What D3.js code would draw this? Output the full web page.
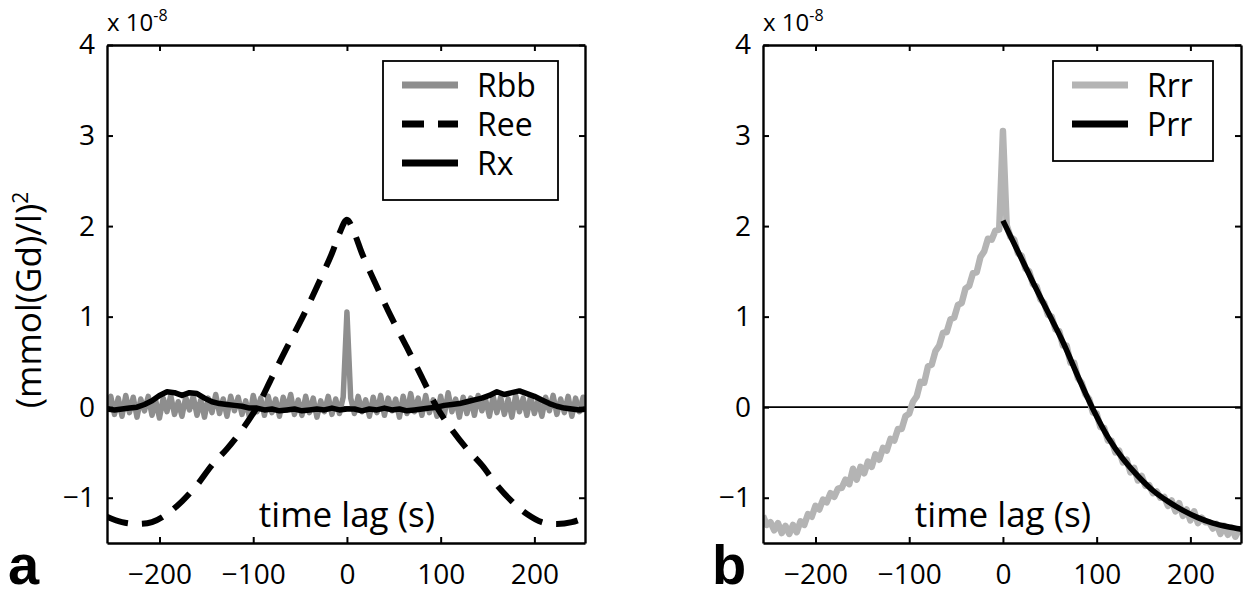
<!DOCTYPE html>
<html>
<head>
<meta charset="utf-8">
<script src="https://cdnjs.cloudflare.com/ajax/libs/d3/7.8.5/d3.min.js"></script>
<style>
  body { margin: 0; background: #fff; }
  svg text { font-family: "Open Sans", sans-serif; fill: #000; }
</style>
</head>
<body>
<div id="chart"></div>
<script>
var svgWidth = 1244;
var svgHeight = 597;

// ---- data (values in units of 1e-8 (mmol(Gd)/l)^2) ----
var xTicks = [-200, -100, 0, 100, 200];
var yTicks = [-1, 0, 1, 2, 3, 4];

// fine lag grid, 4 s spacing (Rbb, Rrr)
var lagFine = d3.range(-256, 257, 4);
// 8 s spacing (Rx)
var lagRx = d3.range(-256, 257, 8);

var rbb = [
  0.02, 0.12, -0.08, 0.10, -0.10, 0.13, -0.06, 0.11, -0.11, 0.09, -0.04, 0.12, -0.09, 0.07, -0.12, 0.10,
  -0.05, 0.13, -0.08, 0.06, -0.10, 0.11, -0.03, 0.12, -0.09, 0.08, -0.11, 0.10, -0.06, 0.14, -0.07, 0.09,
  -0.10, 0.12, -0.04, 0.11, -0.08, 0.07, -0.11, 0.13, -0.05, 0.10, -0.09, 0.12, -0.06, 0.09, -0.10, 0.11,
  -0.03, 0.14, -0.08, 0.08, -0.09, 0.12, -0.06, 0.10, -0.11, 0.07, -0.05, 0.12, -0.08, 0.09, -0.07, 0.11,
  1.05,
  0.10, -0.07, 0.12, -0.05, 0.08, -0.10, 0.11, -0.06, 0.13, -0.09, 0.10, -0.04, 0.09, -0.11, 0.12, -0.07,
  0.15, -0.05, 0.10, -0.09, 0.13, -0.06, 0.08, -0.10, 0.12, -0.08, 0.16, -0.05, 0.09, -0.11, 0.11, -0.07,
  0.10, -0.09, 0.13, -0.04, 0.08, -0.10, 0.12, -0.06, 0.11, -0.08, 0.09, -0.11, 0.13, -0.05, 0.10, -0.09,
  0.12, -0.07, 0.08, -0.10, 0.11, -0.04, 0.13, -0.08, 0.09, -0.06, 0.12, -0.10, 0.10, -0.05, 0.11, 0.01
];

var rx = [
  -0.02, -0.03, -0.02, -0.01, 0.00, 0.03, 0.07, 0.13, 0.17, 0.16, 0.13, 0.16, 0.15, 0.10, 0.06, 0.04,
  0.03, 0.02, 0.01, -0.01, -0.01, -0.03, -0.02, -0.04, -0.03, -0.02, -0.04, -0.03, -0.02, -0.03, -0.01, -0.03,
  -0.02,
  -0.02, -0.04, -0.02, -0.03, -0.01, -0.03, -0.02, -0.04, -0.03, -0.02, -0.01, 0.00, 0.02, 0.03, 0.04, 0.06,
  0.08, 0.10, 0.13, 0.17, 0.14, 0.16, 0.18, 0.15, 0.12, 0.08, 0.04, 0.01, -0.01, -0.02, -0.03, -0.02
];

var lagRee = [-256, -240, -224, -208, -192, -176, -160, -144, -128, -112, -96, -80, -64, -48, -32, -16, -8,
  0, 8, 16, 32, 48, 64, 80, 96, 112, 128, 144, 160, 176, 192, 208, 224, 240, 256];
var ree = [-1.21, -1.27, -1.29, -1.27, -1.18, -1.04, -0.86, -0.64, -0.46, -0.25, 0.00, 0.33, 0.66, 0.98, 1.33, 1.70, 1.92,
  2.07, 1.92, 1.70, 1.33, 0.98, 0.66, 0.33, 0.00, -0.25, -0.46, -0.64, -0.86, -1.04, -1.18, -1.27, -1.29, -1.27, -1.21];

var rrr = [
  -1.20, -1.30, -1.27, -1.36, -1.28, -1.39, -1.31, -1.40, -1.30, -1.38, -1.26, -1.30, -1.18, -1.21, -1.09, -1.13,
  -1.02, -1.05, -0.95, -0.99, -0.90, -0.89, -0.80, -0.85, -0.68, -0.80, -0.66, -0.73, -0.60, -0.66, -0.52, -0.58,
  -0.45, -0.48, -0.35, -0.37, -0.24, -0.24, -0.10, -0.07, 0.06, 0.12, 0.28, 0.27, 0.45, 0.47, 0.62, 0.68,
  0.82, 0.83, 0.97, 0.99, 1.13, 1.15, 1.31, 1.34, 1.48, 1.49, 1.66, 1.72, 1.86, 1.85, 1.95, 1.96,
  3.05,
  2.01, 1.88, 1.85, 1.70, 1.67, 1.53, 1.50, 1.36, 1.33, 1.19, 1.15, 1.02, 1.00, 0.86, 0.84, 0.68,
  0.68, 0.49, 0.49, 0.32, 0.27, 0.14, 0.09, -0.06, -0.07, -0.22, -0.23, -0.37, -0.37, -0.50, -0.48, -0.61,
  -0.58, -0.72, -0.67, -0.81, -0.76, -0.87, -0.86, -0.95, -0.93, -1.00, -0.99, -1.09, -1.03, -1.15, -1.06, -1.20,
  -1.13, -1.25, -1.15, -1.28, -1.22, -1.27, -1.27, -1.34, -1.29, -1.40, -1.31, -1.41, -1.33, -1.43, -1.35, -1.38
];

var lagPrr = [0, 16, 32, 48, 64, 80, 96, 112, 128, 144, 160, 176, 192, 208, 224, 240, 256];
var prr = [2.06, 1.72, 1.38, 1.05, 0.72, 0.34, -0.02, -0.33, -0.57, -0.76, -0.92, -1.04, -1.14, -1.22, -1.28, -1.32, -1.35];

// ---- layout ----
var yTop = 45, yBottom = 543;

var svg = d3.select("#chart")
  .append("svg")
  .attr("width", svgWidth)
  .attr("height", svgHeight);

var y = d3.scaleLinear().domain([-1.5, 4]).range([yBottom, yTop]);
var xA = d3.scaleLinear().domain([-256, 254]).range([107, 585]);
var xB = d3.scaleLinear().domain([-256, 254]).range([763, 1241]);

var fmt = d => (d < 0 ? "\u2212" + Math.abs(d) : "" + d);

function zip(xs, ys) {
  return xs.map((t, i) => [t, ys[i]]);
}

// draws MATLAB style box axes, returns clipped group for data
function drawFrame(x, id) {
  var x0 = x.range()[0], x1 = x.range()[1];
  var g = svg.append("g");

  g.append("clipPath").attr("id", id)
    .append("rect")
    .attr("x", x0).attr("y", yTop)
    .attr("width", x1 - x0).attr("height", yBottom - yTop);

  var data = g.append("g").attr("clip-path", `url(#${id})`);

  // zero line
  data.append("line")
    .attr("x1", x0).attr("x2", x1)
    .attr("y1", y(0)).attr("y2", y(0))
    .attr("stroke", "#000")
    .attr("stroke-width", 1.8);

  var axes = g.append("g").attr("class", "axes");

  axes.append("g")
    .attr("transform", `translate(0,${yBottom})`)
    .call(d3.axisBottom(x).tickValues(xTicks).tickSizeInner(-6).tickSizeOuter(0).tickPadding(21).tickFormat(fmt));
  axes.append("g")
    .attr("transform", `translate(0,${yTop})`)
    .call(d3.axisTop(x).tickValues(xTicks).tickSizeInner(-6).tickSizeOuter(0).tickFormat(""));
  axes.append("g")
    .attr("transform", `translate(${x0},0)`)
    .call(d3.axisLeft(y).tickValues(yTicks).tickSizeInner(-6).tickSizeOuter(0).tickPadding(12).tickFormat(fmt));
  axes.append("g")
    .attr("transform", `translate(${x1},0)`)
    .call(d3.axisRight(y).tickValues(yTicks).tickSizeInner(-6).tickSizeOuter(0).tickFormat(""));

  axes.selectAll(".domain").attr("stroke", "#000").attr("stroke-width", 2.4);
  axes.selectAll(".tick line").attr("stroke", "#000").attr("stroke-width", 2);
  axes.selectAll("text")
    .attr("font-family", "Open Sans, sans-serif")
    .attr("font-size", 28)
    .attr("fill", "#000");

  // exponent
  var ex = g.append("text")
    .attr("x", x0)
    .attr("y", 31)
    .attr("font-size", 24);
  ex.append("tspan").text("x 10");
  ex.append("tspan").attr("dy", -10).attr("font-size", 16).text("-8");

  // x label inside box
  g.append("text")
    .attr("x", x(0))
    .attr("y", 527)
    .attr("text-anchor", "middle")
    .attr("font-size", 35)
    .text("time lag (s)");

  return data;
}

function legend(x0, y0, w, items) {
  var lg = svg.append("g");
  lg.append("rect")
    .attr("x", x0).attr("y", y0)
    .attr("width", w).attr("height", 24 + items.length * 39 - 2)
    .attr("fill", "#fff")
    .attr("stroke", "#000")
    .attr("stroke-width", 1.8);
  items.forEach(function(it, i) {
    var yy = y0 + 24 + i * 39;
    lg.append("line")
      .attr("x1", x0 + 19).attr("x2", x0 + 75)
      .attr("y1", yy).attr("y2", yy)
      .attr("stroke", it.color)
      .attr("stroke-width", 7)
      .attr("stroke-dasharray", it.dash || null);
    lg.append("text")
      .attr("x", x0 + 94)
      .attr("y", yy)
      .attr("dy", "0.36em")
      .attr("font-size", 32)
      .text(it.name);
  });
}

// ---- panel a ----
var gA = drawFrame(xA, "clipA");

var lineA = d3.line().x(d => xA(d[0])).y(d => y(d[1]));

gA.append("path")
  .datum(zip(lagFine, rbb))
  .attr("fill", "none")
  .attr("stroke", "#8e8e8e")
  .attr("stroke-width", 5.5)
  .attr("stroke-linejoin", "round")
  .attr("d", lineA);

gA.append("path")
  .datum(zip(lagRee, ree))
  .attr("fill", "none")
  .attr("stroke", "#000")
  .attr("stroke-width", 6)
  .attr("stroke-dasharray", "22,14")
  .attr("d", lineA.curve(d3.curveCatmullRom));

lineA.curve(d3.curveLinear);

gA.append("path")
  .datum(zip(lagRx, rx))
  .attr("fill", "none")
  .attr("stroke", "#000")
  .attr("stroke-width", 5.5)
  .attr("stroke-linejoin", "round")
  .attr("d", lineA);

legend(383, 61, 175, [
  { name: "Rbb", color: "#8e8e8e" },
  { name: "Ree", color: "#000", dash: "22,14" },
  { name: "Rx", color: "#000" }
]);

// ---- panel b ----
var gB = drawFrame(xB, "clipB");

var lineB = d3.line().x(d => xB(d[0])).y(d => y(d[1]));

gB.append("path")
  .datum(zip(lagFine, rrr))
  .attr("fill", "none")
  .attr("stroke", "#b4b4b4")
  .attr("stroke-width", 6.5)
  .attr("stroke-linejoin", "round")
  .attr("d", lineB);

gB.append("path")
  .datum(zip(lagPrr, prr))
  .attr("fill", "none")
  .attr("stroke", "#000")
  .attr("stroke-width", 5.5)
  .attr("d", lineB.curve(d3.curveCatmullRom));

legend(1053, 61, 160, [
  { name: "Rrr", color: "#b4b4b4" },
  { name: "Prr", color: "#000" }
]);

// y label (panel a only)
var yl = svg.append("text")
  .attr("transform", "translate(41,300) rotate(-90)")
  .attr("text-anchor", "middle")
  .attr("font-size", 35);
yl.append("tspan").text("(mmol(Gd)/l)");
yl.append("tspan").attr("dy", -13).attr("font-size", 21).text("2");

// panel letters
svg.append("text")
  .attr("x", 8).attr("y", 584)
  .attr("font-weight", "bold")
  .attr("font-size", 56)
  .style("font-family", "Liberation Sans, Arial, sans-serif")
  .text("a");
svg.append("text")
  .attr("x", 712).attr("y", 584)
  .attr("font-weight", "bold")
  .attr("font-size", 56)
  .style("font-family", "Liberation Sans, Arial, sans-serif")
  .text("b");
</script>
</body>
</html>
